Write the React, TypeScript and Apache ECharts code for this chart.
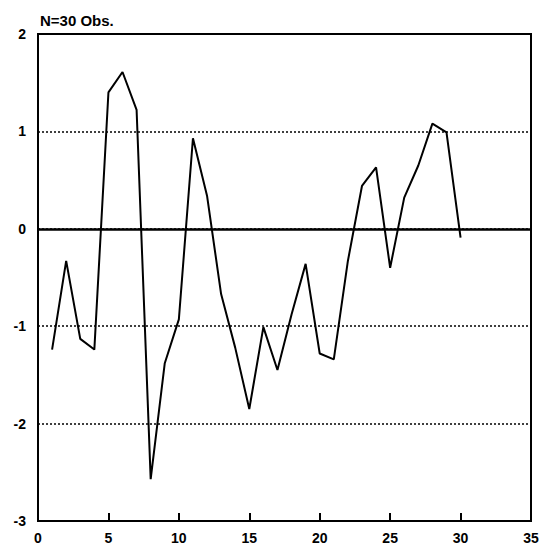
import React, { useEffect, useRef } from "react";
import * as echarts from "echarts";

const titleText = "N=30 Obs.";
const obsIndex = [1,2,3,4,5,6,7,8,9,10,11,12,13,14,15,16,17,18,19,20,21,22,23,24,25,26,27,28,29,30];
const obsValues = [-1.24,-0.33,-1.13,-1.24,1.40,1.61,1.22,-2.57,-1.38,-0.93,0.93,0.34,-0.67,-1.22,-1.85,-1.01,-1.45,-0.88,-0.36,-1.28,-1.34,-0.33,0.44,0.63,-0.40,0.32,0.65,1.08,0.99,-0.09];
const xTicks = [0,5,10,15,20,25,30,35];
const yTicks = [-3,-2,-1,0,1,2];
const innerTicks = [5,10,15,20,25,30];

export default function App() {
  const ref = useRef<HTMLDivElement>(null);
  useEffect(() => {
    if (!ref.current) return;
    const chart = echarts.init(ref.current, null, { renderer: "svg" });
    const font = "Liberation Sans, Arial, sans-serif";
    chart.setOption({
      animation: false,
      backgroundColor: "#ffffff",
      title: {
        text: titleText,
        left: 35,
        top: 8,
        textStyle: { fontFamily: font, fontWeight: "bold", fontSize: 15, color: "#000" },
      },
      grid: {
        left: 38, right: 17, top: 34, bottom: 33,
        show: true, borderColor: "#000", borderWidth: 2, backgroundColor: "transparent",
      },
      xAxis: {
        type: "value",
        min: 0, max: 35, interval: 5,
        axisLine: { show: true, onZero: false, lineStyle: { color: "#000", width: 2 } },
        axisTick: { show: true, inside: true, length: 8, lineStyle: { color: "#000", width: 2 } },
        axisLabel: {
          color: "#000", fontFamily: font, fontWeight: "bold", fontSize: 14, margin: 10,
          formatter: (v: number) => (xTicks.includes(v) ? String(v) : ""),
        },
        splitLine: { show: false },
      },
      yAxis: {
        type: "value",
        min: -3, max: 2, interval: 1,
        axisLine: { show: true, onZero: false, lineStyle: { color: "#000", width: 2 } },
        axisTick: { show: false },
        axisLabel: {
          color: "#000", fontFamily: font, fontWeight: "bold", fontSize: 14, margin: 12,
          formatter: (v: number) => (yTicks.includes(v) ? String(v) : ""),
        },
        splitLine: { show: true, lineStyle: { color: "#000", width: 1.5, type: [2, 2] } },
      },
      series: [
        {
          type: "line",
          data: obsIndex.map((x, i) => [x, obsValues[i]]),
          symbol: "none",
          lineStyle: { color: "#000", width: 2 },
          markLine: {
            silent: true,
            symbol: "none",
            label: { show: false },
            lineStyle: { color: "#000", width: 2.5, type: "solid" },
            data: [
              { yAxis: 0 },
              ...innerTicks.map((x) => [
                { coord: [x, -3], lineStyle: { width: 2 } },
                { coord: [x, -2.92] },
              ]),
            ],
          },
        },
      ],
    });
    return () => chart.dispose();
  }, []);
  return <div ref={ref} style={{ width: 548, height: 554, margin: -8 }} />;
}
